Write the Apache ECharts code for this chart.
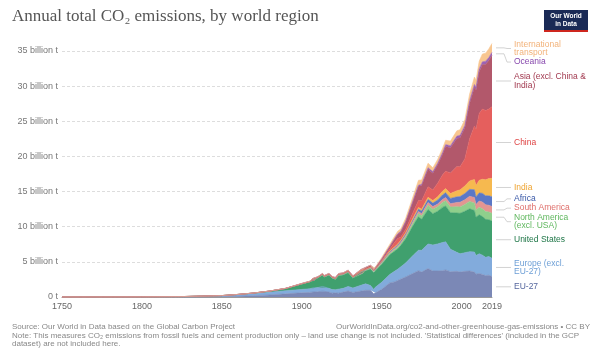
<!DOCTYPE html>
<html><head><meta charset="utf-8">
<script src="https://cdn.jsdelivr.net/npm/echarts@6/dist/echarts.min.js"></script>
<style>html,body{margin:0;padding:0;background:#fff}#c{width:600px;height:362px}</style>
</head><body><div id="c"></div>
<script>
// Years
const years = [1750,1775,1800,1825,1850,1860,1870,1880,1890,1900,1905,1907,1908,1910,1913,1914,1917,1919,1921,1923,1926,1929,1932,1937,1938,1940,1943,1945,1946,1950,1955,1958,1960,1962,1965,1970,1973,1975,1979,1982,1985,1988,1990,1993,1997,1999,2002,2005,2008,2009,2011,2013,2015,2017,2019];
// Annual emissions, billion tonnes CO2
const eu27 = [0,0,0.001,0.006,0.05,0.1,0.18,0.3,0.45,0.6,0.65,0.72,0.72,0.75,0.85,0.75,0.7,0.55,0.6,0.55,0.7,0.85,0.65,0.85,0.9,0.95,0.95,0.45,0.6,1.1,2.0,2.15,2.35,2.55,2.85,3.4,3.75,3.55,4.05,3.7,3.7,3.75,3.85,3.6,3.65,3.55,3.65,3.7,3.55,3.25,3.35,3.2,3.05,3.1,2.9];
const europeExclEU = [0.009,0.017,0.027,0.05,0.13,0.21,0.29,0.38,0.45,0.48,0.52,0.57,0.56,0.59,0.65,0.61,0.53,0.5,0.44,0.57,0.53,0.66,0.63,0.82,0.85,0.92,0.68,0.63,0.78,1.0,1.2,1.5,1.6,1.75,2.0,2.6,2.9,3.1,3.5,3.7,3.85,4.0,4.0,3.2,2.7,2.6,2.65,2.75,2.85,2.65,2.8,2.75,2.6,2.65,2.6];
const unitedStates = [0,0,0.0003,0.002,0.02,0.05,0.09,0.15,0.3,0.75,0.95,1.2,1.05,1.35,1.6,1.45,1.85,1.6,1.45,1.9,1.9,1.95,1.4,1.8,1.55,1.85,2.35,2.4,2.3,2.55,2.8,2.85,2.9,3.05,3.45,4.3,4.75,4.4,4.9,4.45,4.65,5.0,5.1,5.2,5.6,5.75,5.9,6.1,5.9,5.45,5.55,5.5,5.4,5.25,5.3];
const northAmericaExclUSA = [0,0,0,0,0.002,0.003,0.005,0.01,0.015,0.03,0.04,0.05,0.05,0.06,0.08,0.07,0.08,0.08,0.08,0.09,0.09,0.1,0.08,0.1,0.09,0.1,0.12,0.13,0.13,0.16,0.2,0.22,0.24,0.26,0.3,0.4,0.47,0.5,0.62,0.65,0.65,0.7,0.75,0.8,0.9,0.92,0.97,1.05,1.07,1.03,1.08,1.1,1.1,1.1,1.1];
const southAmerica = [0,0,0,0,0,0,0,0.001,0.004,0.01,0.012,0.015,0.015,0.02,0.025,0.02,0.02,0.02,0.02,0.025,0.028,0.032,0.03,0.04,0.042,0.045,0.045,0.05,0.055,0.09,0.12,0.14,0.16,0.17,0.19,0.24,0.29,0.31,0.37,0.36,0.37,0.42,0.44,0.48,0.6,0.65,0.66,0.72,0.8,0.78,0.88,0.95,0.97,0.95,0.98];
const africa = [0,0,0,0,0,0,0,0.001,0.002,0.008,0.01,0.012,0.012,0.015,0.02,0.02,0.02,0.02,0.022,0.025,0.028,0.03,0.028,0.035,0.036,0.04,0.05,0.055,0.06,0.1,0.13,0.15,0.16,0.17,0.2,0.28,0.35,0.38,0.45,0.5,0.58,0.65,0.7,0.75,0.8,0.82,0.9,1.0,1.1,1.1,1.15,1.25,1.3,1.35,1.4];
const india = [0,0,0,0,0,0,0.002,0.005,0.008,0.015,0.02,0.025,0.025,0.03,0.035,0.036,0.04,0.04,0.04,0.045,0.045,0.05,0.045,0.055,0.055,0.06,0.065,0.065,0.065,0.07,0.09,0.11,0.12,0.14,0.16,0.2,0.23,0.26,0.3,0.36,0.45,0.53,0.58,0.7,0.85,0.95,1.05,1.2,1.45,1.6,1.8,2.0,2.25,2.45,2.6];
const china = [0,0,0,0,0,0,0,0,0,0.002,0.003,0.004,0.005,0.006,0.01,0.011,0.013,0.014,0.015,0.017,0.02,0.022,0.025,0.03,0.03,0.04,0.06,0.03,0.03,0.08,0.25,0.65,0.78,0.44,0.5,0.8,1.0,1.2,1.5,1.5,1.95,2.3,2.48,2.9,3.45,3.3,3.85,6.0,7.6,8.0,9.5,10.0,9.85,9.9,10.2];
const asiaExcl = [0,0,0,0,0,0,0,0.002,0.005,0.02,0.03,0.035,0.035,0.045,0.06,0.06,0.08,0.08,0.08,0.085,0.09,0.1,0.1,0.15,0.16,0.18,0.18,0.04,0.06,0.2,0.33,0.45,0.6,0.72,1.0,1.6,2.0,2.15,2.5,2.4,2.6,2.9,3.5,3.6,4.0,4.1,4.4,5.0,5.5,5.55,5.95,6.3,6.6,6.9,7.3];
const oceania = [0,0,0,0,0,0,0.003,0.005,0.01,0.02,0.02,0.022,0.022,0.025,0.03,0.03,0.03,0.03,0.03,0.032,0.033,0.035,0.03,0.035,0.036,0.04,0.045,0.045,0.048,0.06,0.075,0.08,0.09,0.095,0.11,0.15,0.17,0.18,0.2,0.22,0.23,0.26,0.28,0.3,0.34,0.36,0.38,0.4,0.42,0.42,0.42,0.42,0.42,0.43,0.44];
const intlTransport = [0,0,0,0,0,0,0,0,0,0,0,0,0,0,0,0,0,0,0,0,0,0,0,0,0,0,0,0,0,0.2,0.28,0.32,0.35,0.38,0.45,0.6,0.7,0.62,0.65,0.55,0.55,0.6,0.62,0.65,0.75,0.8,0.82,0.95,1.05,1.0,1.08,1.1,1.15,1.22,1.25];

const seriesNames = ['EU-27','Europe (excl. EU-27)','United States','North America (excl. USA)','South America','Africa','India','China','Asia (excl. China & India)','Oceania','International transport'];
const seriesValues = [eu27, europeExclEU, unitedStates, northAmericaExclUSA, southAmerica, africa, india, china, asiaExcl, oceania, intlTransport];
const labelLines = [['EU-27'],['Europe (excl.','EU-27)'],['United States'],['North America','(excl. USA)'],['South America'],['Africa'],['India'],['China'],['Asia (excl. China &','India)'],['Oceania'],['International','transport']];
const xTickYears = [1750,1800,1850,1900,1950,2000,2019];

const areaColors = ['#7b88b6','#82abdc','#40a06e','#8fcf8c','#e39592','#5b78c6','#f6b94f','#e55f5d','#b2586b','#9b62b5','#f8c690'];
const labelColors = ['#56679e','#6d9fd6','#1e7647','#5fb75e','#df6f6b','#3b5aa8','#eea330','#df4444','#a23a50','#8748ad','#f2b279'];

const chart = echarts.init(document.getElementById('c'), null, {renderer:'canvas'});
const FONT = "'Liberation Sans', Arial, sans-serif";

// value first, year second; encode maps year to x so the stack is computed on y
const series = seriesNames.map((n, k) => ({
  name: n, type: 'line', stack: 'total', symbol: 'none', clip: false,
  data: years.map((y, i) => [seriesValues[k][i], y]),
  encode: {x: 1, y: 0},
  lineStyle: {width: 0.6, color: areaColors[k]},
  itemStyle: {color: areaColors[k]},
  areaStyle: {color: areaColors[k], opacity: 1},
  emphasis: {disabled: true},
  silent: true, animation: false
}));

chart.setOption({
  animation: false,
  grid: {left: 62, right: 108, top: 51, bottom: 65},
  xAxis: {
    type: 'value', min: 1750, max: 2019, interval: 50,
    axisLine: {show: true, lineStyle: {color: '#999', width: 1}},
    axisTick: {show: false},
    splitLine: {show: false},
    axisLabel: {color: '#666', fontSize: 9, fontFamily: FONT, margin: 5,
      formatter: v => xTickYears.includes(v) ? String(v) : ''}
  },
  yAxis: {
    type: 'value', min: 0, max: 35, interval: 5,
    axisLine: {show: false}, axisTick: {show: false},
    splitLine: {lineStyle: {color: '#ddd', type: [3, 2], width: 1}},
    axisLabel: {color: '#777', fontSize: 9, fontFamily: FONT, margin: 4,
      formatter: v => v === 0 ? '0 t' : v + ' billion t'}
  },
  series: series
});

// Right-hand labels, positioned from the last data point of each band
const last = years.length - 1;
let cum = 0;
const items = seriesNames.map((n, k) => {
  const v = seriesValues[k][last];
  const mid = cum + v / 2;
  cum += v;
  const p = chart.convertToPixel({gridIndex: 0}, [years[last], mid]);
  const h = labelLines[k].length * 8.5;
  return {k, band: p[1], y: p[1], h, x: p[0]};
});
items.sort((a, b) => a.y - b.y);
for (let it = 0; it < 300; it++) {
  for (let i = 1; i < items.length; i++) {
    const a = items[i - 1], b = items[i];
    const minD = (a.h + b.h) / 2 + 0.8;
    if (b.y - a.y < minD) { const d = (minD - (b.y - a.y)) / 2; a.y -= d; b.y += d; }
  }
  items.forEach(o => { if (o.y + o.h / 2 > 296) o.y = 296 - o.h / 2; if (o.y - o.h / 2 < 40) o.y = 40 + o.h / 2; });
}
const xr = items[0].x;
const graphics = [];
items.forEach(o => {
  graphics.push({type: 'polyline', silent: true,
    shape: {points: [[xr + 4, o.band], [xr + 12, o.band], [xr + 15, o.y], [xr + 19, o.y]]},
    style: {stroke: '#c8c8c8', lineWidth: 0.8, fill: null}});
  graphics.push({type: 'text', silent: true, x: xr + 22, y: o.y,
    style: {text: labelLines[o.k].join('\n'), fill: labelColors[o.k], font: "8.5px " + FONT,
      lineHeight: 8.5, verticalAlign: 'middle', align: 'left'}});
});
// Title
graphics.push({type: 'text', x: 12, y: 17, style: {text: 'Annual total CO₂ emissions, by world region',
  fill: '#555', font: "17px 'Liberation Serif', 'DejaVu Serif', serif", verticalAlign: 'middle'}});
// Logo
graphics.push({type: 'rect', shape: {x: 544, y: 10, width: 44, height: 22}, style: {fill: '#1a2a56'}});
graphics.push({type: 'rect', shape: {x: 544, y: 30, width: 44, height: 2}, style: {fill: '#ce261e'}});
graphics.push({type: 'text', x: 566, y: 20, style: {text: 'Our World\nin Data', fill: '#fff',
  font: "bold 6.5px " + FONT, lineHeight: 7.5, align: 'center', verticalAlign: 'middle'}});
// Footer
graphics.push({type: 'text', x: 12, y: 327, style: {text: 'Source: Our World in Data based on the Global Carbon Project',
  fill: '#888', font: "8px " + FONT, verticalAlign: 'middle'}});
graphics.push({type: 'text', x: 590, y: 327, style: {text: 'OurWorldInData.org/co2-and-other-greenhouse-gas-emissions • CC BY',
  fill: '#888', font: "8px " + FONT, verticalAlign: 'middle', align: 'right'}});
graphics.push({type: 'text', x: 12, y: 340, style: {text: "Note: This measures CO₂ emissions from fossil fuels and cement production only – land use change is not included. 'Statistical differences' (included in the GCP\ndataset) are not included here.",
  fill: '#888', font: "8px " + FONT, lineHeight: 8.5, verticalAlign: 'middle'}});

chart.setOption({graphic: graphics});
</script>
</body></html>
